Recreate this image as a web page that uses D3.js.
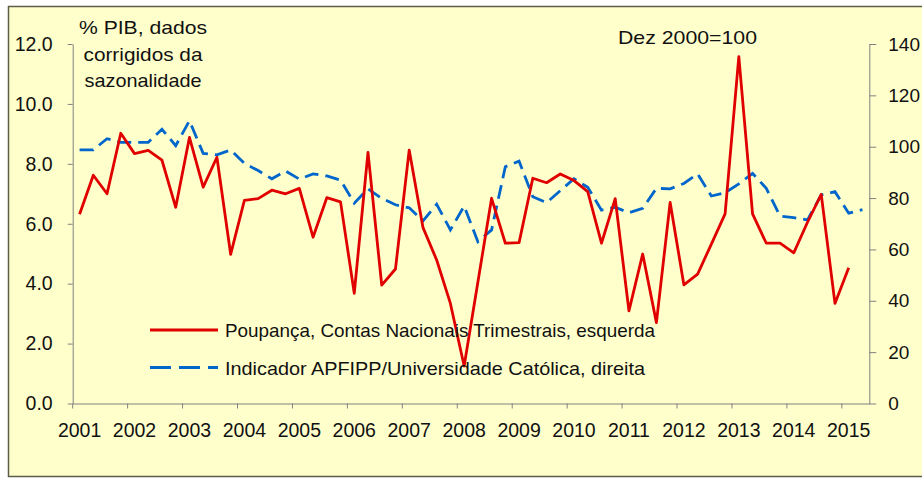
<!DOCTYPE html>
<html>
<head>
<meta charset="utf-8">
<script src="https://cdn.jsdelivr.net/npm/d3@7"></script>
<style>
  body { margin: 0; background: #fff; }
  svg text { font-family: "Liberation Sans", Arial, sans-serif; fill: #111; }
</style>
</head>
<body>
<div id="chart"></div>
<script>
const quarters = [
  "2001T1","2001T2","2001T3","2001T4","2002T1","2002T2","2002T3","2002T4",
  "2003T1","2003T2","2003T3","2003T4","2004T1","2004T2","2004T3","2004T4",
  "2005T1","2005T2","2005T3","2005T4","2006T1","2006T2","2006T3","2006T4",
  "2007T1","2007T2","2007T3","2007T4","2008T1","2008T2","2008T3","2008T4",
  "2009T1","2009T2","2009T3","2009T4","2010T1","2010T2","2010T3","2010T4",
  "2011T1","2011T2","2011T3","2011T4","2012T1","2012T2","2012T3","2012T4",
  "2013T1","2013T2","2013T3","2013T4","2014T1","2014T2","2014T3","2014T4",
  "2015T1","2015T2"
];

// poupança, % PIB (eixo esquerdo)
const poupanca = [
  6.32, 7.62, 7.00, 9.02, 8.34, 8.45, 8.12, 6.55,
  8.88, 7.22, 8.22, 4.98, 6.78, 6.84, 7.12, 7.00,
  7.18, 5.55, 6.87, 6.73, 3.68, 8.38, 3.95, 4.49,
  8.46, 5.88, 4.79, 3.34, 1.25, 4.05, 6.85, 5.35,
  5.37, 7.52, 7.37, 7.66, 7.44, 7.07, 5.35, 6.84,
  3.09, 4.99, 2.70, 6.71, 3.96, 4.32, 5.32, 6.33,
  11.58, 6.33, 5.35, 5.35, 5.03, 6.05, 6.98, 3.34,
  4.53, null
];

// indicador APFIPP/UCP, Dez 2000=100 (eixo direito)
const indicador = [
  98.8, 98.8, 103.1, 101.7, 101.7, 101.7, 106.8, 100.4,
  110.1, 97.4, 96.8, 98.7, 93.5, 90.7, 87.5, 90.5,
  87.4, 89.4, 88.6, 87.0, 78.0, 83.6, 79.9, 77.4,
  76.2, 71.1, 77.6, 67.6, 76.9, 63.0, 67.6, 92.2,
  94.4, 80.5, 78.2, 82.9, 87.5, 84.2, 75.3, 76.4,
  74.3, 76.0, 83.8, 83.6, 85.7, 89.4, 80.8, 82.1,
  85.5, 89.6, 83.8, 73.0, 72.4, 71.5, 81.2, 82.5,
  74.1, 75.5
];

const yearLabels = ["2001","2002","2003","2004","2005","2006","2007","2008",
  "2009","2010","2011","2012","2013","2014","2015"];
const leftTicks = [0, 2, 4, 6, 8, 10, 12];
const rightTicks = [0, 20, 40, 60, 80, 100, 120, 140];

const W = 922, H = 478;
const plot = { left: 72.7, right: 869.3, top: 44, bottom: 403.5 };
const font = '"Liberation Sans", Arial, sans-serif';

const svg = d3.select("#chart").append("svg")
  .attr("width", W).attr("height", H);

svg.append("rect")
  .attr("x", 8.5).attr("y", 6.5)
  .attr("width", 940).attr("height", 470)
  .attr("fill", "#FFFFCC")
  .attr("stroke", "#5c5c48")
  .attr("stroke-width", 1.5);

const x = d3.scaleBand().domain(quarters).range([plot.left, plot.right]);
const yL = d3.scaleLinear().domain([0, 12]).range([plot.bottom, plot.top]);
const yR = d3.scaleLinear().domain([0, 140]).range([plot.bottom, plot.top]);
const cx = q => x(q) + x.bandwidth() / 2;

// eixos
const axisStyle = g => {
  g.attr("font-family", font);
  g.selectAll("path, line").attr("stroke", "#808080").attr("stroke-width", 1);
  g.selectAll("text").attr("font-size", 19.5).attr("fill", "#111");
};

svg.append("g")
  .attr("transform", `translate(${plot.left},0)`)
  .call(d3.axisLeft(yL).tickValues(leftTicks).tickFormat(d3.format(".1f"))
    .tickSize(5).tickSizeOuter(0).tickPadding(15))
  .call(axisStyle);

svg.append("g")
  .attr("transform", `translate(${plot.right},0)`)
  .call(d3.axisRight(yR).tickValues(rightTicks)
    .tickSize(7).tickSizeOuter(0).tickPadding(12))
  .call(axisStyle)
  .call(g => g.selectAll("text").attr("font-size", 19));

const firstQ = quarters.filter((q, i) => i % 4 === 0);

const xAxis = svg.append("g")
  .attr("transform", `translate(0,${plot.bottom})`)
  .call(d3.axisBottom(x).tickValues(firstQ)
    .tickFormat((q, i) => yearLabels[i])
    .tickSize(0).tickSizeOuter(0).tickPadding(20))
  .call(axisStyle);

xAxis.selectAll(".tickmark")
  .data(firstQ)
  .join("line")
  .attr("class", "tickmark")
  .attr("x1", q => x(q)).attr("x2", q => x(q))
  .attr("y1", 0).attr("y2", 5)
  .attr("stroke", "#808080");

// séries
const lineL = d3.line()
  .defined(d => d != null)
  .x((d, i) => cx(quarters[i]))
  .y(d => yL(d));

const lineR = d3.line()
  .defined(d => d != null)
  .x((d, i) => cx(quarters[i]))
  .y(d => yR(d));

svg.append("path")
  .datum(indicador)
  .attr("d", lineR)
  .attr("fill", "none")
  .attr("stroke", "#0066CC")
  .attr("stroke-width", 2.8)
  .attr("stroke-dasharray", "14,7");

svg.append("path")
  .datum(poupanca)
  .attr("d", lineL)
  .attr("fill", "none")
  .attr("stroke", "#E00000")
  .attr("stroke-width", 2.8)
  .attr("stroke-linejoin", "round");

// títulos
const titleLines = ["% PIB, dados", "corrigidos da", "sazonalidade"];
const titleLen = [128, 119, 117];
svg.append("g").selectAll("text")
  .data(titleLines)
  .join("text")
  .attr("x", 143)
  .attr("y", (d, i) => 34 + i * 26.5)
  .attr("text-anchor", "middle")
  .attr("font-family", font)
  .attr("font-size", 18.5)
  .attr("textLength", (d, i) => titleLen[i])
  .attr("lengthAdjust", "spacingAndGlyphs")
  .text(d => d);

svg.append("text")
  .attr("x", 618).attr("y", 44)
  .attr("font-family", font)
  .attr("font-size", 18.5)
  .attr("textLength", 139)
  .attr("lengthAdjust", "spacingAndGlyphs")
  .text("Dez 2000=100");

// legenda
const legend = [
  { label: "Poupança, Contas Nacionais Trimestrais, esquerda", color: "#E00000", dash: null, y: 330, len: 430 },
  { label: "Indicador APFIPP/Universidade Católica, direita", color: "#0066CC", dash: "21,8", y: 367.5, len: 420 }
];

const lg = svg.append("g").selectAll("g")
  .data(legend)
  .join("g");

lg.append("line")
  .attr("x1", 150).attr("x2", 218)
  .attr("y1", d => d.y).attr("y2", d => d.y)
  .attr("stroke", d => d.color)
  .attr("stroke-width", 2.8)
  .attr("stroke-dasharray", d => d.dash);

lg.append("text")
  .attr("x", 225)
  .attr("y", d => d.y + 7)
  .attr("font-family", font)
  .attr("font-size", 18.5)
  .attr("textLength", d => d.len)
  .attr("lengthAdjust", "spacingAndGlyphs")
  .text(d => d.label);
</script>
</body>
</html>
